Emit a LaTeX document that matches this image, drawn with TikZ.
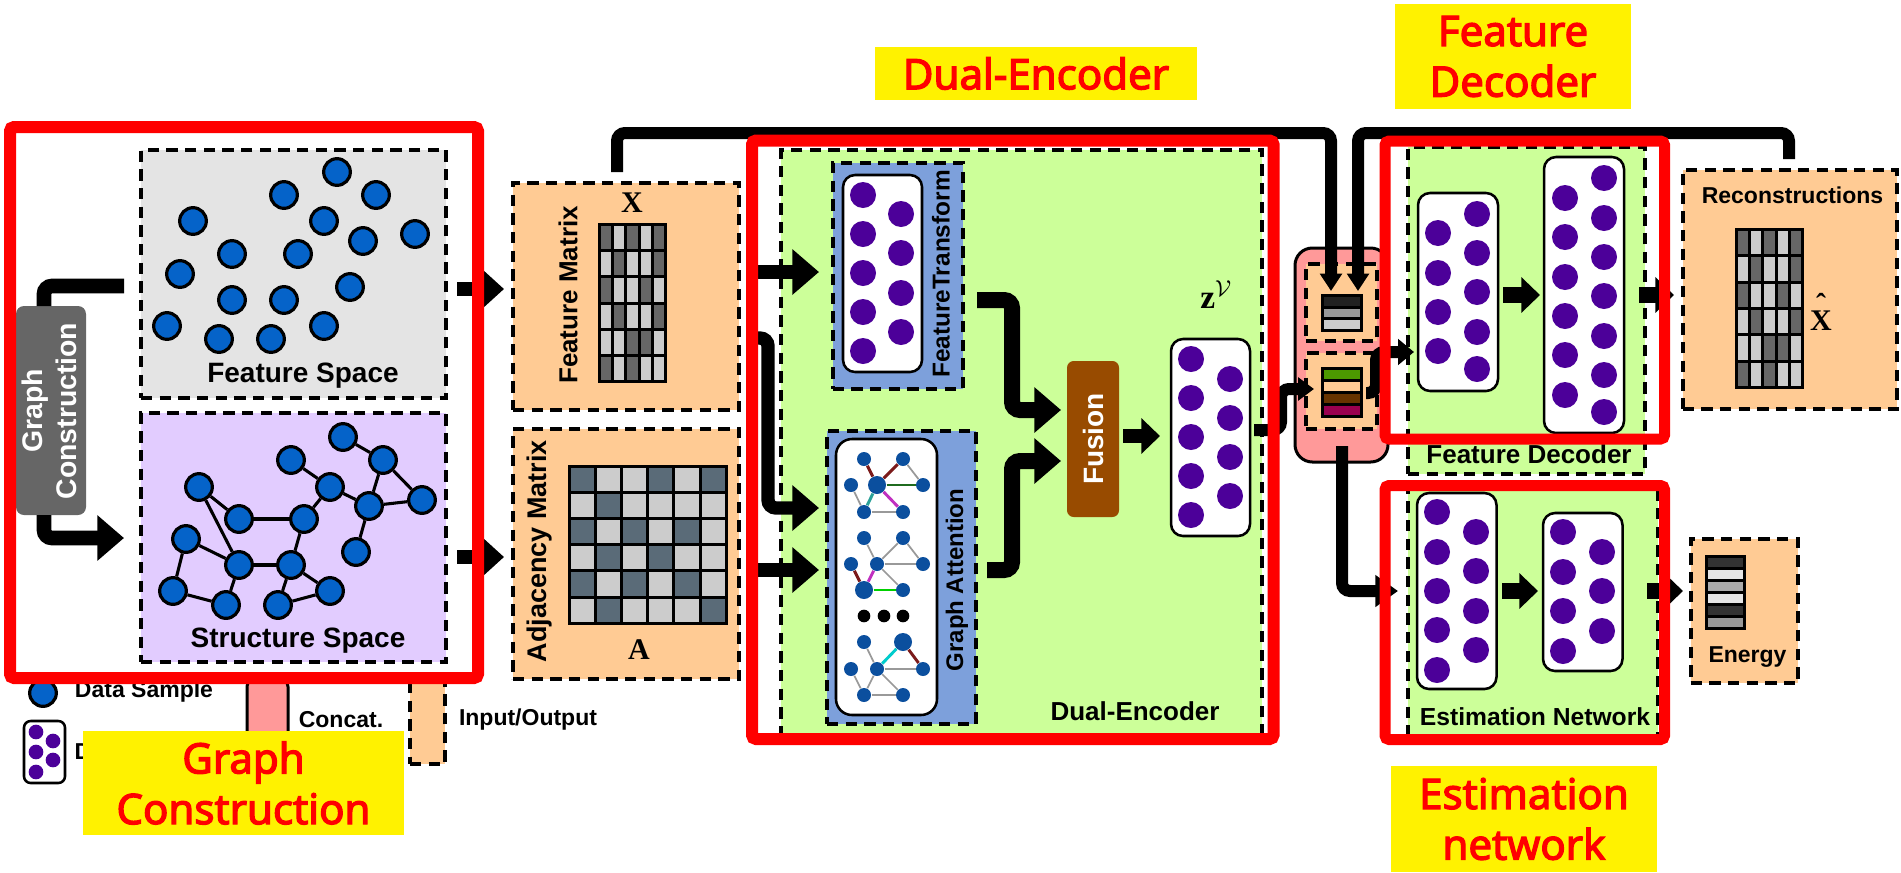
\documentclass[tikz,border=0pt]{standalone}
\usepackage[no-math]{fontspec}
\setmainfont{Liberation Sans}
\newfontfamily\tagfont[FakeBold=3]{Noto Sans}
\newfontfamily\labelserif{Liberation Serif}
\usetikzlibrary{arrows.meta}

\definecolor{samplefill}{HTML}{0563C9}
\definecolor{spacegrey}{HTML}{E4E4E4}
\definecolor{spaceviolet}{HTML}{E2CCFF}
\definecolor{ioorange}{HTML}{FFCB94}
\definecolor{encgreen}{HTML}{CCFF99}
\definecolor{modblue}{HTML}{7DA0DB}
\definecolor{neuronfill}{HTML}{4C0099}
\definecolor{fusionbrown}{HTML}{984B00}
\definecolor{concatpink}{HTML}{FF9999}
\definecolor{graphnode}{HTML}{0B4F9E}
\definecolor{cellgrey}{HTML}{666666}
\definecolor{celllight}{HTML}{CCCCCC}
\definecolor{cellslate}{HTML}{5A6B78}
\definecolor{stripgreen}{HTML}{4C9900}
\definecolor{stripbrown}{HTML}{663300}
\definecolor{stripwine}{HTML}{990050}
\definecolor{edgedark}{HTML}{7B1A1A}
\definecolor{edgegreen}{HTML}{1F6B1F}
\definecolor{edgeteal}{HTML}{2AA198}
\definecolor{edgemagenta}{HTML}{C030C0}
\definecolor{edgelime}{HTML}{00D000}
\definecolor{edgecyan}{HTML}{00CCCC}

\tikzset{every picture/.style={line width=0.75pt}}
\tikzset{
	boxsize/.style 2 args={minimum width=#1*0.75pt,minimum height=#2*0.75pt},
	cornerbox/.style={inner sep=0pt,outer sep=0pt,anchor=north west},
	dashbox/.style={cornerbox,draw=black,line width=3pt,dash pattern=on 8.5pt off 5.5pt},
	redbox/.style={cornerbox,draw=red,line width=9pt,rounded corners=3pt},
	layerbox/.style={cornerbox,draw=black,fill=white,line width=1.9pt,rounded corners=9pt},
	sample/.style={circle,draw=black,line width=2.4pt,fill=samplefill,inner sep=0pt,minimum size=20pt},
	sedge/.style={line width=2.3pt},
	neuron/.style={circle,fill=neuronfill,inner sep=0pt,minimum size=19.5pt},
	smallneuron/.style={circle,fill=neuronfill,inner sep=0pt,minimum size=11pt},
	gnode/.style={circle,fill=graphnode,inner sep=0pt},
	gedge/.style={draw=black!40,line width=1.3pt},
	cedge/.style={line width=2.2pt},
	cell/.style={cornerbox,draw=black,line width=2.25pt},
	flowbig/.style={line width=10.5pt,rounded corners=6pt,-{Triangle[length=20pt,width=33pt]}},
	flowmid/.style={line width=12pt,-{Triangle[length=14pt,width=26pt]}},
	flowsmall/.style={line width=9pt,rounded corners=6pt,-{Triangle[length=13pt,width=16pt]}},
	title/.style={font=\bfseries\fontsize{19.5}{24}\selectfont},
	smalltitle/.style={font=\bfseries\fontsize{17.25}{21}\selectfont},
	serifmark/.style={font=\labelserif\bfseries\fontsize{22.5}{26}\selectfont},
	tagbox/.style={cornerbox,fill=yellow,text=red,align=center,font=\tagfont\fontsize{31.5}{38}\selectfont}
}
\newcommand{\cellgrid}[6]{%
	\foreach \row [count=\r from 0] in {#6}{
		\foreach \col [count=\k from 0] in \row{
			\node[cell,fill=\col,boxsize={#4}{#5}] (#1-\r-\k) at ({#2+\k*#4},{#3+\r*#5}) {};
		}
	}
}

\begin{document}
\begin{tikzpicture}[x=0.75pt,y=0.75pt,yscale=-1,xscale=1]
	\useasboundingbox (0,0) rectangle (1901,872);

	%Legend
	\node[sample] (legsample) at (43,693) {};
	\node[smalltitle] (legsampletxt) at (144,692) {Data Sample};
	\node[layerbox,boxsize={41}{62},rounded corners=5pt] (leglayer) at (24,721) {};
	\foreach \x/\y [count=\i] in {36/732,53/741,36/752,53/760,36/772}
		\node[smallneuron] (legn\i) at (\x,\y) {};
	\node[smalltitle,anchor=west,inner sep=0pt] (leglayertxt) at (74,752) {D};
	\node[cornerbox,draw=black,fill=concatpink,line width=2.25pt,rounded corners=5pt,boxsize={41}{90}] (legconcat) at (247,680) {};
	\node[smalltitle] (legconcattxt) at (341,720) {Concat.};
	\node[dashbox,fill=ioorange,boxsize={35}{90}] (legio) at (410,674) {};
	\node[smalltitle] (legiotxt) at (528,720) {Input/Output};

	%Graph construction
	\node[dashbox,fill=spacegrey,boxsize={305}{248}] (featspace) at (141,150) {};
	\node[dashbox,fill=spaceviolet,boxsize={305}{249}] (structspace) at (141,413) {};
	\foreach \x/\y [count=\i] in {337/172,284/195,376/195,193/221,324/221,415/234,363/241,232/254,298/254,180/274,350/287,232/300,284/300,167/326,324/326,219/339,271/339}
		\node[sample] (fs\i) at (\x,\y) {};
	\foreach \n/\x/\y in {a/343/437,b/383/460,c/291/460,d/330/487,e/422/500,f/369/506,g/199/487,h/239/519,i/304/519,j/186/539,k/356/552,l/239/565,m/291/565,n/330/591,o/173/591,p/226/605,q/278/605}
		\node[sample] (ss\n) at (\x,\y) {};
	\foreach \a/\b in {a/b,b/f,b/e,f/e,c/d,d/f,d/i,f/k,g/h,g/l,h/i,i/m,j/l,j/o,o/p,p/l,l/m,m/n,m/q,q/n}
		\draw[sedge] (ss\a) -- (ss\b);
	\node[font=\bfseries\fontsize{21}{25}\selectfont] (featspacetxt) at (303,376) {Feature Space};
	\node[font=\bfseries\fontsize{21}{25}\selectfont] (structspacetxt) at (298,641) {Structure Space};
	\node[cornerbox,fill=black!60,rounded corners=6pt,boxsize={70}{209}] (gc) at (16,306) {};
	\node[rotate=90,text=white,align=center,font=\bfseries\fontsize{21.3}{25.5}\selectfont] (gctxt) at (49,411) {Graph\\Construction};

	%Input matrices
	\node[dashbox,fill=ioorange,boxsize={226}{227}] (featmat) at (513,183) {};
	\node[dashbox,fill=ioorange,boxsize={226}{250}] (adjmat) at (513,429) {};
	\node[title,rotate=90] (featmattxt) at (568,295) {Feature Matrix};
	\node[font=\bfseries\fontsize{20.25}{24}\selectfont,rotate=90] (adjmattxt) at (540,551) {Adjacency Matrix};
	\node[serifmark] (xlabel) at (632,203) {X};
	\node[serifmark] (alabel) at (639,650) {A};
	\cellgrid{xgrid}{599.5}{224.5}{13.2}{26.17}{{cellgrey,celllight,cellgrey,celllight,cellgrey},{celllight,cellgrey,celllight,celllight,cellgrey},{cellgrey,celllight,celllight,cellgrey,celllight},{celllight,cellgrey,celllight,celllight,cellgrey},{celllight,celllight,cellgrey,cellgrey,celllight},{cellgrey,celllight,cellgrey,celllight,celllight}}
	\cellgrid{agrid}{569}{466}{26.2}{26.2}{{cellslate,celllight,celllight,cellslate,celllight,cellslate},{celllight,cellslate,celllight,celllight,celllight,celllight},{cellslate,celllight,cellslate,celllight,cellslate,celllight},{celllight,cellslate,celllight,cellslate,celllight,celllight},{cellslate,celllight,cellslate,celllight,cellslate,celllight},{celllight,cellslate,celllight,celllight,celllight,cellslate}}

	%Dual-Encoder
	\node[dashbox,fill=encgreen,boxsize={481}{590}] (dualenc) at (781,150) {};
	\node[title] (dualenctxt) at (1135,711) {Dual-Encoder};
	\node[dashbox,fill=modblue,boxsize={130.5}{225.5}] (feattrans) at (832.5,163) {};
	\node[layerbox,boxsize={79}{197}] (ftlayer) at (843,175) {};
	\foreach \x/\y [count=\i] in {863/195,863/234,863/273,863/312,863/351,901/214,901/253,901/293,901/332}
		\node[neuron] (ft\i) at (\x,\y) {};
	\node[rotate=90,font=\bfseries\fontsize{18.3}{22}\selectfont] (feattranstxt) at (941,274) {FeatureTransform};
	\node[dashbox,fill=modblue,boxsize={149}{293}] (graphatt) at (827,431) {};
	\node[layerbox,boxsize={101}{276},rounded corners=12pt] (galayer) at (836,439) {};
	\node[rotate=90,font=\bfseries\fontsize{18}{22}\selectfont] (graphatttxt) at (957,580) {Graph Attention};

	%Small graphs
	\foreach \n/\x/\y/\s in {a/864/459/14,b/903/459/14,c/851/485/14,d/877/485/18,e/923/485/14,f/864/512/14,g/903/512/14}
		\node[gnode,minimum size=\s*0.75pt] (gone\n) at (\x,\y) {};
	\foreach \a/\b in {b/e,c/f,f/g}
		\draw[gedge] (gone\a) -- (gone\b);
	\foreach \a/\b/\c in {a/d/edgedark,b/d/edgedark,d/e/edgegreen,d/f/edgeteal,d/g/edgemagenta}
		\draw[cedge,draw=\c] (gone\a) -- (gone\b);
	\foreach \n/\x/\y/\s in {a/864/538/14,b/903/538/14,c/851/564/14,d/877/564/14,e/923/564/14,f/864/590/18,g/903/590/14}
		\node[gnode,minimum size=\s*0.75pt] (gtwo\n) at (\x,\y) {};
	\foreach \a/\b in {a/d,b/d,b/e,d/e,d/g}
		\draw[gedge] (gtwo\a) -- (gtwo\b);
	\foreach \a/\b/\c in {c/f/edgedark,d/f/edgemagenta,f/g/edgelime}
		\draw[cedge,draw=\c] (gtwo\a) -- (gtwo\b);
	\foreach \x [count=\i] in {864,884,903}
		\node[circle,fill=black,inner sep=0pt,minimum size=9.5pt] (gdot\i) at (\x,616) {};
	\foreach \n/\x/\y/\s in {a/864/642/14,b/903/642/18,c/851/669/14,d/877/669/14,e/923/669/14,f/864/695/14,g/903/695/14}
		\node[gnode,minimum size=\s*0.75pt] (gthree\n) at (\x,\y) {};
	\foreach \a/\b in {a/d,d/e,c/f,d/f,d/g,f/g}
		\draw[gedge] (gthree\a) -- (gthree\b);
	\foreach \a/\b/\c in {b/d/edgecyan,b/e/edgedark}
		\draw[cedge,draw=\c] (gthree\a) -- (gthree\b);

	%Fusion and latent layer
	\node[cornerbox,fill=fusionbrown,rounded corners=5pt,boxsize={52}{156}] (fusion) at (1067,361) {};
	\node[rotate=90,text=white,font=\bfseries\fontsize{21}{25}\selectfont] (fusiontxt) at (1093,439) {Fusion};
	\node[layerbox,boxsize={79}{197}] (zlayer) at (1171,339) {};
	\foreach \x/\y [count=\i] in {1191/359,1191/398,1191/437,1191/476,1191/515,1230/379,1230/418,1230/457,1230/496}
		\node[neuron] (zn\i) at (\x,\y) {};
	\node[serifmark,font=\labelserif\bfseries\fontsize{25}{28}\selectfont] (zlabel) at (1216,295) {z$^{\mathcal{V}}$};

	%Concat
	\node[cornerbox,draw=black,fill=concatpink,line width=2.25pt,rounded corners=13pt,boxsize={93}{214}] (concat) at (1295,248) {};
	\node[dashbox,fill=ioorange,boxsize={71}{77}] (concattop) at (1306,264) {};
	\node[dashbox,fill=ioorange,boxsize={71}{76}] (concatlow) at (1306,353) {};
	\cellgrid{ctgrid}{1322.5}{295.5}{38.5}{11.67}{{black!87},{black!40},{celllight}}
	\cellgrid{clgrid}{1322.5}{368.5}{38.5}{12}{{stripgreen},{ioorange},{stripbrown},{stripwine}}

	%Feature decoder
	\node[dashbox,fill=encgreen,boxsize={237}{327}] (featdec) at (1408,147) {};
	\node[title] (featdectxt) at (1529,454) {Feature Decoder};
	\node[layerbox,boxsize={80}{198}] (fdlayera) at (1418,193) {};
	\foreach \x/\y [count=\i] in {1438/233,1438/273,1438/312,1438/351,1477/214,1477/253,1477/292,1477/332,1477/369}
		\node[neuron] (fda\i) at (\x,\y) {};
	\node[layerbox,boxsize={80}{276}] (fdlayerb) at (1544,157) {};
	\foreach \x/\y [count=\i] in {1565/198,1565/237,1565/277,1565/316,1565/355,1565/395,1604/178,1604/218,1604/257,1604/296,1604/336,1604/375,1604/412}
		\node[neuron] (fdb\i) at (\x,\y) {};

	%Reconstructions
	\node[dashbox,fill=ioorange,boxsize={214.5}{239}] (recon) at (1682.5,170) {};
	\node[smalltitle] (recontxt) at (1792.5,195) {Reconstructions};
	\cellgrid{rgrid}{1736.5}{229.5}{13.2}{26.33}{{cellgrey,celllight,cellgrey,celllight,cellgrey},{celllight,cellgrey,celllight,celllight,cellgrey},{cellgrey,celllight,celllight,cellgrey,celllight},{celllight,cellgrey,celllight,celllight,cellgrey},{celllight,celllight,cellgrey,cellgrey,celllight},{cellgrey,celllight,cellgrey,celllight,celllight}}
	\node[serifmark] (xhatlabel) at (1821,312) {\ooalign{\hfil\raisebox{0.55em}{\char"02C6}\hfil\cr X\cr}};

	%Estimation network
	\node[dashbox,fill=encgreen,boxsize={250}{250}] (estnet) at (1408,486) {};
	\node[font=\bfseries\fontsize{18.5}{22}\selectfont] (estnettxt) at (1535,717) {Estimation Network};
	\node[layerbox,boxsize={79.5}{196}] (enlayera) at (1417,493) {};
	\foreach \x/\y [count=\i] in {1437/512,1437/552,1437/591,1437/630,1437/670,1476/532,1476/571,1476/611,1476/650}
		\node[neuron] (ena\i) at (\x,\y) {};
	\node[layerbox,boxsize={79.5}{158}] (enlayerb) at (1543,513) {};
	\foreach \x/\y [count=\i] in {1563/532,1563/572,1563/611,1563/651,1602/552,1602/591,1602/631}
		\node[neuron] (enb\i) at (\x,\y) {};

	%Energy
	\node[dashbox,fill=ioorange,boxsize={107.5}{144}] (energy) at (1690.5,539) {};
	\node[smalltitle] (energytxt) at (1747.5,657) {Energy};
	\cellgrid{egrid}{1706}{556.5}{38}{12}{{black!80},{black!10},{black!33},{black!10},{black!80},{black!40}}

	%Connector ends
	\coordinate (gcup) at (44,306);
	\coordinate (gcupend) at (124,286);
	\coordinate (gcdown) at (44,515);
	\coordinate (gcdownend) at (124,538);
	\coordinate (fsout) at (457,289);
	\coordinate (fmin) at (504,289);
	\coordinate (ssout) at (457,557);
	\coordinate (amin) at (504,557);
	\coordinate (fmup) at (617,172);
	\coordinate (fbturn) at (1331,133);
	\coordinate (ctina) at (1331,291);
	\coordinate (recup) at (1789,159);
	\coordinate (recturn) at (1358,133);
	\coordinate (ctinb) at (1358,291);
	\coordinate (ftsrc) at (750,272);
	\coordinate (ftin) at (819,272);
	\coordinate (midsrc) at (750,338);
	\coordinate (midturn) at (768,508);
	\coordinate (gaina) at (819,508);
	\coordinate (adjsrc) at (750,570);
	\coordinate (gainb) at (819,570);
	\coordinate (ftout) at (977,300);
	\coordinate (ftturn) at (1012,410);
	\coordinate (fuina) at (1061,410);
	\coordinate (gaout) at (987,570);
	\coordinate (gaturn) at (1012,461);
	\coordinate (fuinb) at (1061,461);
	\coordinate (fuout) at (1123,436);
	\coordinate (zin) at (1160,436);
	\coordinate (zout) at (1254,430);
	\coordinate (zturn) at (1281,389);
	\coordinate (clin) at (1314,389);
	\coordinate (clout) at (1366,393);
	\coordinate (clturn) at (1376,352);
	\coordinate (fdin) at (1414,352);
	\coordinate (cedown) at (1342,446);
	\coordinate (cnin) at (1398,591);
	\coordinate (fdamid) at (1503,295);
	\coordinate (fdbmid) at (1540,295);
	\coordinate (fdout) at (1639,295);
	\coordinate (recin) at (1674,295);
	\coordinate (enamid) at (1502,591);
	\coordinate (enbmid) at (1538,591);
	\coordinate (enout) at (1647,591);
	\coordinate (enin) at (1683,591);

	%Straight Lines
	\draw[line width=11pt,rounded corners=6pt] (gcup) |- (gcupend) ;
	\draw[flowbig,line width=11pt] (gcdown) |- (gcdownend) ;
	\draw[flowbig,-{Triangle[length=16pt,width=28pt]}] (fsout) -- (fmin) ;
	\draw[flowbig,-{Triangle[length=16pt,width=28pt]}] (ssout) -- (amin) ;
	\draw[flowsmall] (fmup) |- (fbturn) -- (ctina) ;
	\draw[flowsmall] (recup) |- (recturn) -- (ctinb) ;
	\draw[flowbig] (ftsrc) -- (ftin) ;
	\draw[flowbig,line width=10pt] (midsrc) -| (midturn) -- (gaina) ;
	\draw[flowbig] (adjsrc) -- (gainb) ;
	\draw[flowbig,line width=12pt] (ftout) -| (ftturn) -- (fuina) ;
	\draw[flowbig,line width=12pt] (gaout) -| (gaturn) -- (fuinb) ;
	\draw[flowbig,-{Triangle[length=14pt,width=26pt]}] (fuout) -- (zin) ;
	\draw[flowsmall,-{Triangle[length=12pt,width=17pt]}] (zout) -| (zturn) -- (clin) ;
	\draw[flowsmall,-{Triangle[length=12pt,width=19pt]}] (clout) -| (clturn) -- (fdin) ;
	\draw[flowsmall,-{Triangle[length=17pt,width=23pt]}] (cedown) |- (cnin) ;
	\draw[flowmid] (fdamid) -- (fdbmid) ;
	\draw[flowmid] (fdout) -- (recin) ;
	\draw[flowmid] (enamid) -- (enbmid) ;
	\draw[flowmid] (enout) -- (enin) ;

	%Highlight frames
	\node[redbox,boxsize={468}{551}] (framegraph) at (10,127) {};
	\node[redbox,boxsize={521.5}{598.5}] (frameenc) at (752,140.5) {};
	\node[redbox,line width=8.25pt,boxsize={279.5}{298}] (framedec) at (1385,141) {};
	\node[redbox,line width=8.25pt,boxsize={279.5}{254}] (frameest) at (1385,485.5) {};

	% Text Node
	\node[tagbox,boxsize={321}{104}] (taggraph) at (83,731) {Graph\\Construction};
	\node[tagbox,boxsize={322}{53}] (tagenc) at (875,47) {Dual-Encoder};
	\node[tagbox,boxsize={236}{105}] (tagdec) at (1395,4) {Feature\\Decoder};
	\node[tagbox,boxsize={266}{106}] (tagest) at (1391,766) {Estimation\\network};
\end{tikzpicture}
\end{document}
